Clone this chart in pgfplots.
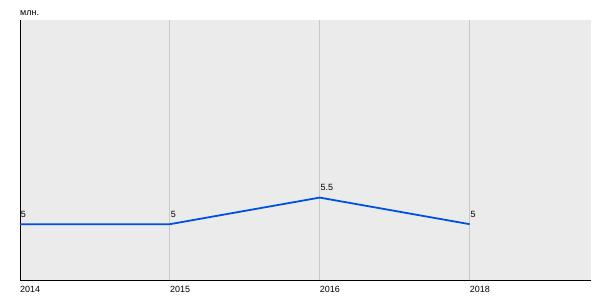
\documentclass[border=0pt]{standalone}
\usepackage{pgfplots}
\pgfplotsset{compat=1.18}
\usepackage{fontspec}
\setmainfont{Liberation Sans}
\definecolor{bgc}{RGB}{235,235,235}
\definecolor{gridc}{RGB}{200,200,200}
\definecolor{linec}{RGB}{0,80,230}
\begin{document}
\fontsize{9pt}{11pt}\selectfont
\begin{tikzpicture}
\begin{axis}[
  name=ax,
  at={(0,0)}, anchor=south west,
  scale only axis,
  width=571pt, height=260pt,
  xmin=0, xmax=3.81,
  ymin=3.95, ymax=8.84,
  axis x line*=bottom, axis y line*=left,
  axis line style={black, line width=0.8pt, -},
  axis background/.style={fill=bgc},
  xtick={0,1,2,3},
  xticklabels={2014,2015,2016,2018},
  ytick=\empty,
  major tick length=0pt,
  xmajorgrids,
  grid style={gridc, line width=0.8pt},
  xticklabel style={anchor=north west, inner sep=0pt, yshift=-6pt, font=\fontsize{9pt}{11pt}\selectfont},
  /pgf/number format/assume math mode=true,
  clip=false,
]
\addplot[color=linec, line width=1.8pt,
  nodes near coords,
  point meta=explicit symbolic,
  nodes near coords style={anchor=south west, inner sep=0pt, yshift=6pt, black, font=\fontsize{9pt}{11pt}\selectfont},
] coordinates {
  (0,5) [5]
  (1,5) [5]
  (2,5.5) [5.5]
  (3,5) [5]
};
\end{axis}
\node[anchor=base west, inner sep=0pt] at ([yshift=5pt]ax.north west) {млн.};
\path ([shift={(-20pt,-20pt)}]ax.south west) rectangle ([shift={(580pt,280pt)}]ax.south west);
\end{tikzpicture}
\end{document}
